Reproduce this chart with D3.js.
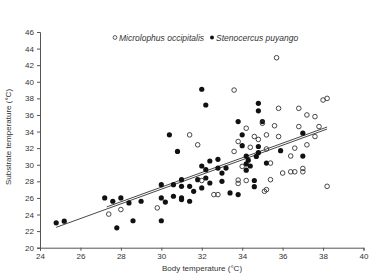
<!DOCTYPE html>
<html>
<head>
<meta charset="utf-8">
<script src="https://cdn.jsdelivr.net/npm/d3@7"></script>
<style>
  body { margin: 0; background: #fff; }
  text { font-family: "Liberation Sans", Arial, sans-serif; fill: #333; }
</style>
</head>
<body>
<svg id="chart" width="389" height="279"></svg>
<script>
// Microlophus occipitalis (open circles): [body T, substrate T]
const micro = [
  [27.4, 24.05], [28.0, 24.6], [29.8, 24.8], [31.4, 33.6], [31.8, 32.4],
  [32.0, 28.1], [32.6, 26.4], [32.8, 26.4], [33.6, 31.6], [33.8, 32.8],
  [33.6, 39.0], [35.8, 36.8], [34.2, 34.4], [35.6, 34.7], [34.6, 33.4],
  [34.8, 33.05], [35.2, 33.6], [35.8, 33.4], [34.4, 32.1], [35.7, 42.9],
  [36.8, 36.8], [37.2, 36.0], [37.6, 35.8], [38.0, 37.8], [38.2, 38.0],
  [36.8, 34.6], [37.8, 34.6], [37.6, 33.4], [36.6, 32.0], [37.2, 32.4],
  [36.4, 31.05], [36.0, 29.0], [36.4, 29.15], [36.6, 29.15], [37.0, 29.55],
  [37.0, 29.15], [38.2, 27.4], [35.4, 28.2], [33.8, 28.15], [33.8, 27.75],
  [35.2, 27.0], [34.0, 29.8], [35.2, 31.9], [35.4, 30.2], [34.2, 28.1],
  [35.0, 35.0], [35.1, 26.8]
];

// Stenocercus puyango (filled circles)
const steno = [
  [24.8, 23.0], [25.2, 23.2], [27.2, 26.0], [27.6, 25.6], [28.0, 26.0],
  [28.4, 25.4], [27.8, 22.4], [28.6, 23.25], [29.0, 25.6], [30.0, 26.0],
  [30.0, 27.6], [30.2, 25.5], [30.0, 23.25], [30.4, 33.6], [30.8, 31.6],
  [30.6, 27.6], [30.6, 26.2], [31.0, 28.2], [31.0, 27.4], [31.0, 26.0],
  [31.0, 25.8], [31.4, 27.4], [31.4, 25.6], [31.6, 26.8], [31.8, 28.2],
  [32.0, 29.85], [32.2, 29.4], [32.2, 28.4], [32.0, 27.2], [32.4, 30.45],
  [32.4, 27.8], [32.8, 30.65], [32.8, 29.6], [33.0, 29.0], [33.0, 28.0],
  [33.2, 29.6], [33.4, 26.6], [33.8, 26.4], [34.0, 33.6], [34.0, 32.3],
  [32.0, 39.1], [32.2, 37.2], [34.8, 37.4], [34.8, 36.5], [33.8, 35.2],
  [35.0, 35.2], [34.8, 32.2], [37.0, 33.8], [37.0, 31.05], [35.9, 31.7],
  [34.7, 31.0], [34.3, 30.55], [34.8, 31.45], [34.2, 30.1], [34.4, 29.85],
  [34.6, 28.1], [34.6, 27.35], [35.2, 30.2], [34.2, 29.35], [34.2, 31.05]
];

// regression lines: [slope, intercept, xStart, xEnd]
const fits = [
  [0.884, 0.53, 24.8, 38.2],
  [0.884, 0.78, 27.3, 38.2]
];

const xTicks = d3.range(24, 41, 2);
const yTicks = d3.range(20, 47, 2);
const legendLabels = ['Microlophus occipitalis', 'Stenocercus puyango'];

const svg = d3.select('#chart');

const x = d3.scaleLinear().domain([24, 40]).range([40, 363.5]);
const y = d3.scaleLinear().domain([20, 46]).range([247.7, 32]);

// axes
const xAxis = svg.append('g')
  .attr('transform', `translate(0,${y(20)})`)
  .call(d3.axisBottom(x).tickValues(xTicks).tickSize(3).tickPadding(3));
const yAxis = svg.append('g')
  .attr('transform', `translate(${x(24)},0)`)
  .call(d3.axisLeft(y).tickValues(yTicks).tickSize(3).tickPadding(3));

[xAxis, yAxis].forEach((a) => {
  a.select('.domain').attr('stroke', '#555').attr('stroke-width', 1);
  a.selectAll('.tick line').attr('stroke', '#555');
  a.selectAll('.tick text')
    .style('font-family', '"Liberation Sans", Arial, sans-serif')
    .style('font-size', '8px')
    .attr('fill', '#333');
});

// regression lines
svg.append('g')
  .selectAll('line')
  .data(fits)
  .join('line')
    .attr('x1', (d) => x(d[2]))
    .attr('y1', (d) => y(d[0] * d[2] + d[1]))
    .attr('x2', (d) => x(d[3]))
    .attr('y2', (d) => y(d[0] * d[3] + d[1]))
    .attr('stroke', '#333')
    .attr('stroke-width', 0.9);

// points
svg.append('g')
  .selectAll('circle')
  .data(steno)
  .join('circle')
    .attr('cx', (d) => x(d[0]))
    .attr('cy', (d) => y(d[1]))
    .attr('r', 2.6)
    .attr('fill', '#111');

svg.append('g')
  .selectAll('circle')
  .data(micro)
  .join('circle')
    .attr('cx', (d) => x(d[0]))
    .attr('cy', (d) => y(d[1]))
    .attr('r', 2.3)
    .attr('fill', 'none')
    .attr('stroke', '#333')
    .attr('stroke-width', 0.9);

// legend
const legend = svg.append('g').attr('transform', 'translate(115,38)');
legend.append('circle')
  .attr('cx', 0).attr('cy', -0.5).attr('r', 1.9)
  .attr('fill', 'none').attr('stroke', '#333').attr('stroke-width', 0.8);
legend.append('text')
  .attr('x', 4).attr('y', 2.5)
  .style('font-size', '8.5px').style('font-style', 'italic')
  .text(legendLabels[0]);
legend.append('circle')
  .attr('cx', 97).attr('cy', -0.5).attr('r', 2)
  .attr('fill', '#111');
legend.append('text')
  .attr('x', 101).attr('y', 2.5)
  .style('font-size', '8.5px').style('font-style', 'italic')
  .text(legendLabels[1]);

// axis titles
svg.append('text')
  .attr('x', 202).attr('y', 271)
  .attr('text-anchor', 'middle')
  .style('font-size', '8px')
  .text('Body temperature (°C)');
svg.append('text')
  .attr('transform', 'translate(11,137) rotate(-90)')
  .attr('text-anchor', 'middle')
  .style('font-size', '8px')
  .text('Substrate temperature (°C)');
</script>
</body>
</html>
